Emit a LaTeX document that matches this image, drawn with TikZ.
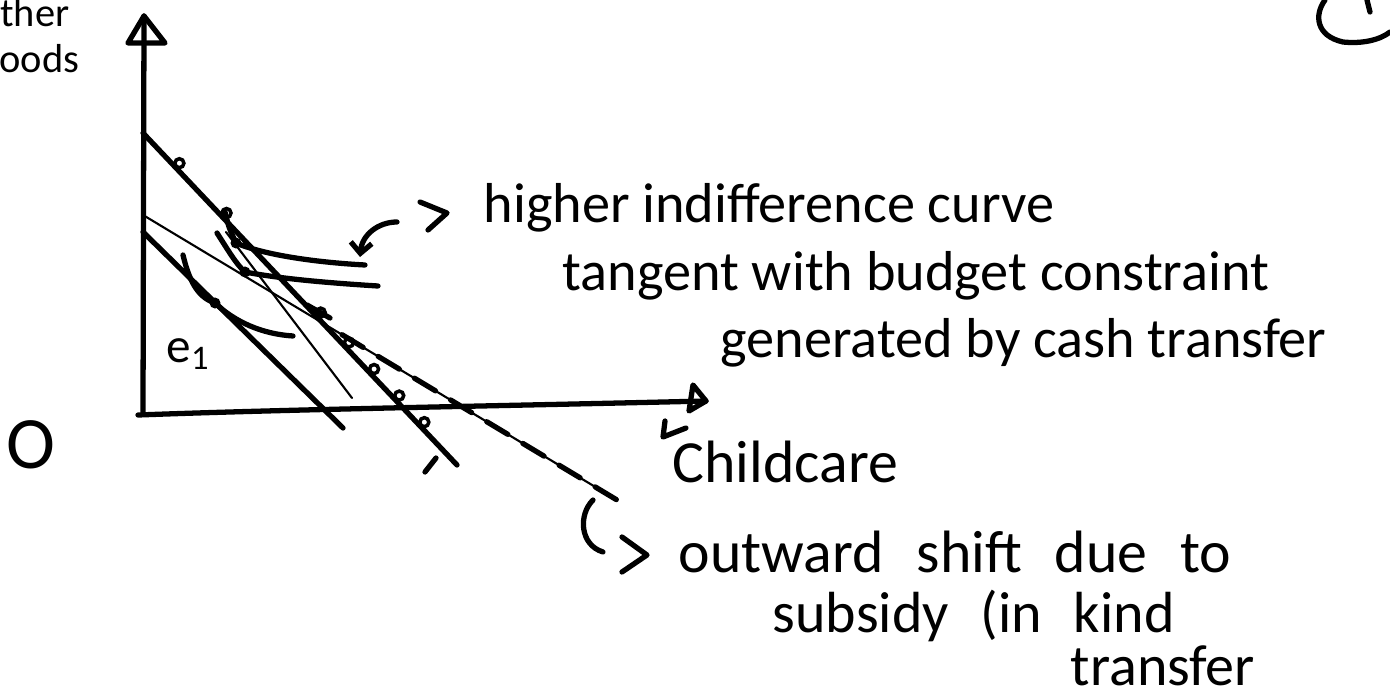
\documentclass[tikz,border=0pt]{standalone}
\usepackage{fontspec}
\setmainfont{Carlito}
\usetikzlibrary{arrows.meta,positioning,calc}
\newcommand\widegap{\spaceskip=0.55em plus 0.1em\relax}

\begin{document}
\begin{tikzpicture}[
    x=0.01cm, y=-0.01cm,
    pen/.style={line width=1.5pt, line cap=round, line join=round},
    thinpen/.style={line width=0.6pt, line cap=round},
    dashpen/.style={line width=1.5pt, line cap=round, dash pattern=on 7pt off 5pt},
    dot/.style={circle, fill, inner sep=0pt, minimum size=0.11cm},
    ring/.style={circle, draw, line width=1pt, inner sep=0pt, minimum size=0.09cm},
    note/.style={font=\fontsize{16}{19}\selectfont, anchor=base west, inner sep=0pt},
    bignote/.style={anchor=base west, inner sep=0pt, font=\fontsize{17}{20}\selectfont\widegap},
    arrow/.style={pen, -{Straight Barb[length=3pt]}},
]
\useasboundingbox (0,0) rectangle (1390,697);

% axes
\coordinate (O) at (143,414);
\coordinate (ytop) at (144,16);
\coordinate (xend) at (706,401);
\draw[pen] (O) -- (ytop);
\draw[pen] (ytop) -- (128,43) -- (165,43) -- cycle;
\draw[pen] (138,415) .. controls (300,409) and (500,406) .. (xend);
\draw[pen] (xend) -- (693,385) -- (689,411) -- cycle;
\draw[pen] (665,421) -- (663,437) -- (686,428);

\node[font=\fontsize{21}{24}\selectfont, inner sep=0pt] (orig) at (31,445) {O};
\node[note, font=\fontsize{11.5}{14}\selectfont, anchor=base east] (ylab1) at (70,27) {other};
\node[note, font=\fontsize{11.5}{14}\selectfont, anchor=base east] (ylab2) at (80,73) {goods};
\node[bignote] (xlab) at (672,482) {Childcare};

% budget lines
\coordinate (a0) at (143,232); \coordinate (a1) at (343,428);
\coordinate (b0) at (143,133); \coordinate (b1) at (457,465);
\coordinate (c0) at (143,215); \coordinate (c1) at (617,500);
\coordinate (d0) at (226,232); \coordinate (d1) at (352,398);
\draw[pen] (a0) -- (a1);
\draw[pen] (b0) -- (b1);
\draw[thinpen] (c0) -- (c1);
\draw[dashpen] ($(c0)!0.42!(c1)$) -- (c1);
\draw[thinpen] (d0) -- (d1);
\foreach \t in {0.1,0.25,0.55,0.64,0.72,0.8,0.88}
  \node[ring] at ($(b0)!\t!(b1)+(5,-3)$) {};
\draw[pen] (307,305) -- (330,318);
\draw[pen] (425,472) -- (436,458);

% indifference curves
\coordinate (e1) at (215,303);
\coordinate (t2) at (236,243);
\coordinate (t3) at (245,272);
\draw[pen] (183,255) .. controls (190,285) and (200,298) .. (e1)
  .. controls (235,322) and (262,334) .. (293,336);
\draw[pen] (225,212) .. controls (229,228) .. (t2)
  .. controls (262,254) and (310,262) .. (365,265);
\draw[pen] (217,233) .. controls (228,250) and (236,264) .. (t3)
  .. controls (282,279) and (330,283) .. (378,286);
\node[dot] at (e1) {};
\node[dot] at (t2) {};
\node[dot] at (t3) {};
\node[note, font=\fontsize{14}{17}\selectfont] (elab) at (166,362) {e\textsubscript{1}};

% note: higher indifference curve
\draw[arrow] (397,222) .. controls (378,222) and (362,235) .. (360,257);
\draw[pen] (420,202) -- (447,213) -- (428,230);
\node[note] (hi1) at (483,222) {higher indifference curve};
\node[note] (hi2) at (562,290) {tangent with budget constraint};
\node[note] (hi3) at (720,357) {generated by cash transfer};

% note: outward shift
\draw[pen] (593,500) .. controls (578,515) and (580,545) .. (603,552);
\draw[pen] (622,537) -- (647,555) -- (622,572);
\node[bignote] (sh1) at (678,572) {outward shift due to};
\node[bignote, font=\fontsize{16.5}{19}\selectfont\widegap] (sh2) at (772,632) {subsidy (in kind};
\node[bignote, font=\fontsize{16.5}{19}\selectfont] (sh3) at (1070,685) {transfer};

% page number circle
\draw[pen] (1325,0) .. controls (1314,15) and (1316,36) .. (1343,42)
  .. controls (1362,44) and (1380,40) .. (1390,32);
\draw[pen] (1367,0) -- (1370,12);
\end{tikzpicture}
\end{document}
